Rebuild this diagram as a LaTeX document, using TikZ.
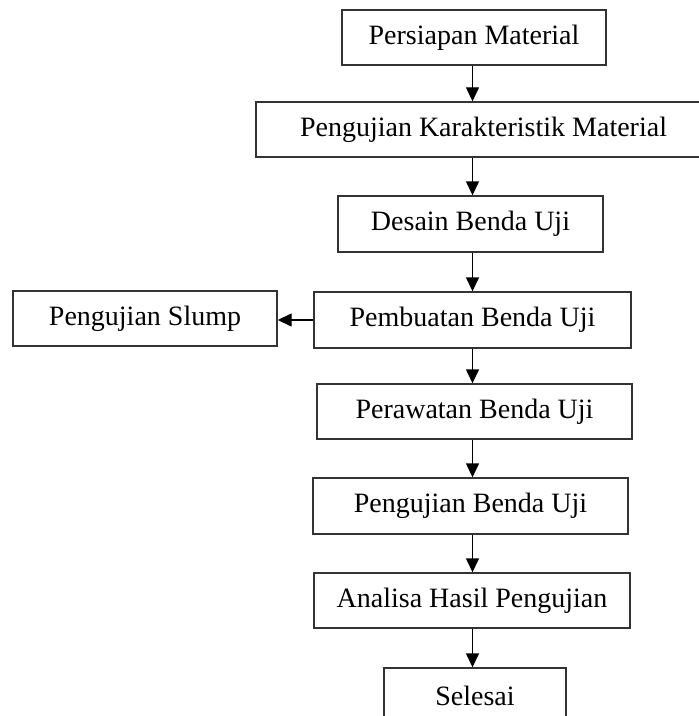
\documentclass[tikz,border=0pt]{standalone}
\usepackage{fontspec}
\setmainfont{Liberation Serif}
\usetikzlibrary{arrows.meta}
\begin{document}
\begin{tikzpicture}[x=1bp,y=-1bp,
  box/.style={draw=black!80, line width=1.4bp, minimum height=55bp, inner sep=0pt,
    font=\fontsize{28bp}{32bp}\selectfont, text=black},
  arr/.style={draw=black, line width=1.4bp, -{Triangle[length=14bp,width=13bp]}}]
\clip (0,0) rectangle (699,716);
\fill[white] (0,0) rectangle (699,716);
\coordinate (axis) at (472.5,0);
\node[box, minimum width=264bp] (b1) at (474,37.5) {Persiapan Material};
\node[box, minimum width=455bp] (b2) at (483.5,129.5) {Pengujian Karakteristik Material};
\node[box, minimum width=265bp, minimum height=56bp] (b3) at (470.5,224) {Desain Benda Uji};
\node[box, minimum width=264bp] (sl) at (145,318.5) {Pengujian Slump};
\node[box, minimum width=317bp, minimum height=56bp] (b4) at (472.5,320) {Pembuatan Benda Uji};
\node[box, minimum width=315bp] (b5) at (474.5,411.5) {Perawatan Benda Uji};
\node[box, minimum width=315bp, minimum height=56bp] (b6) at (470.5,506) {Pengujian Benda Uji};
\node[box, minimum width=316bp] (b7) at (472,600.5) {Analisa Hasil Pengujian};
\node[box, minimum width=182bp] (b8) at (475,695.5) {Selesai};
\draw[arr] (axis |- b1.south) -- (axis |- b2.north);
\draw[arr] (axis |- b2.south) -- (axis |- b3.north);
\draw[arr] (axis |- b3.south) -- (axis |- b4.north);
\draw[arr] (axis |- b4.south) -- (axis |- b5.north);
\draw[arr] (axis |- b5.south) -- (axis |- b6.north);
\draw[arr] (axis |- b6.south) -- (axis |- b7.north);
\draw[arr] (axis |- b7.south) -- (axis |- b8.north);
\draw[arr] (b4.west) -- (b4.west -| sl.east);
\end{tikzpicture}
\end{document}
